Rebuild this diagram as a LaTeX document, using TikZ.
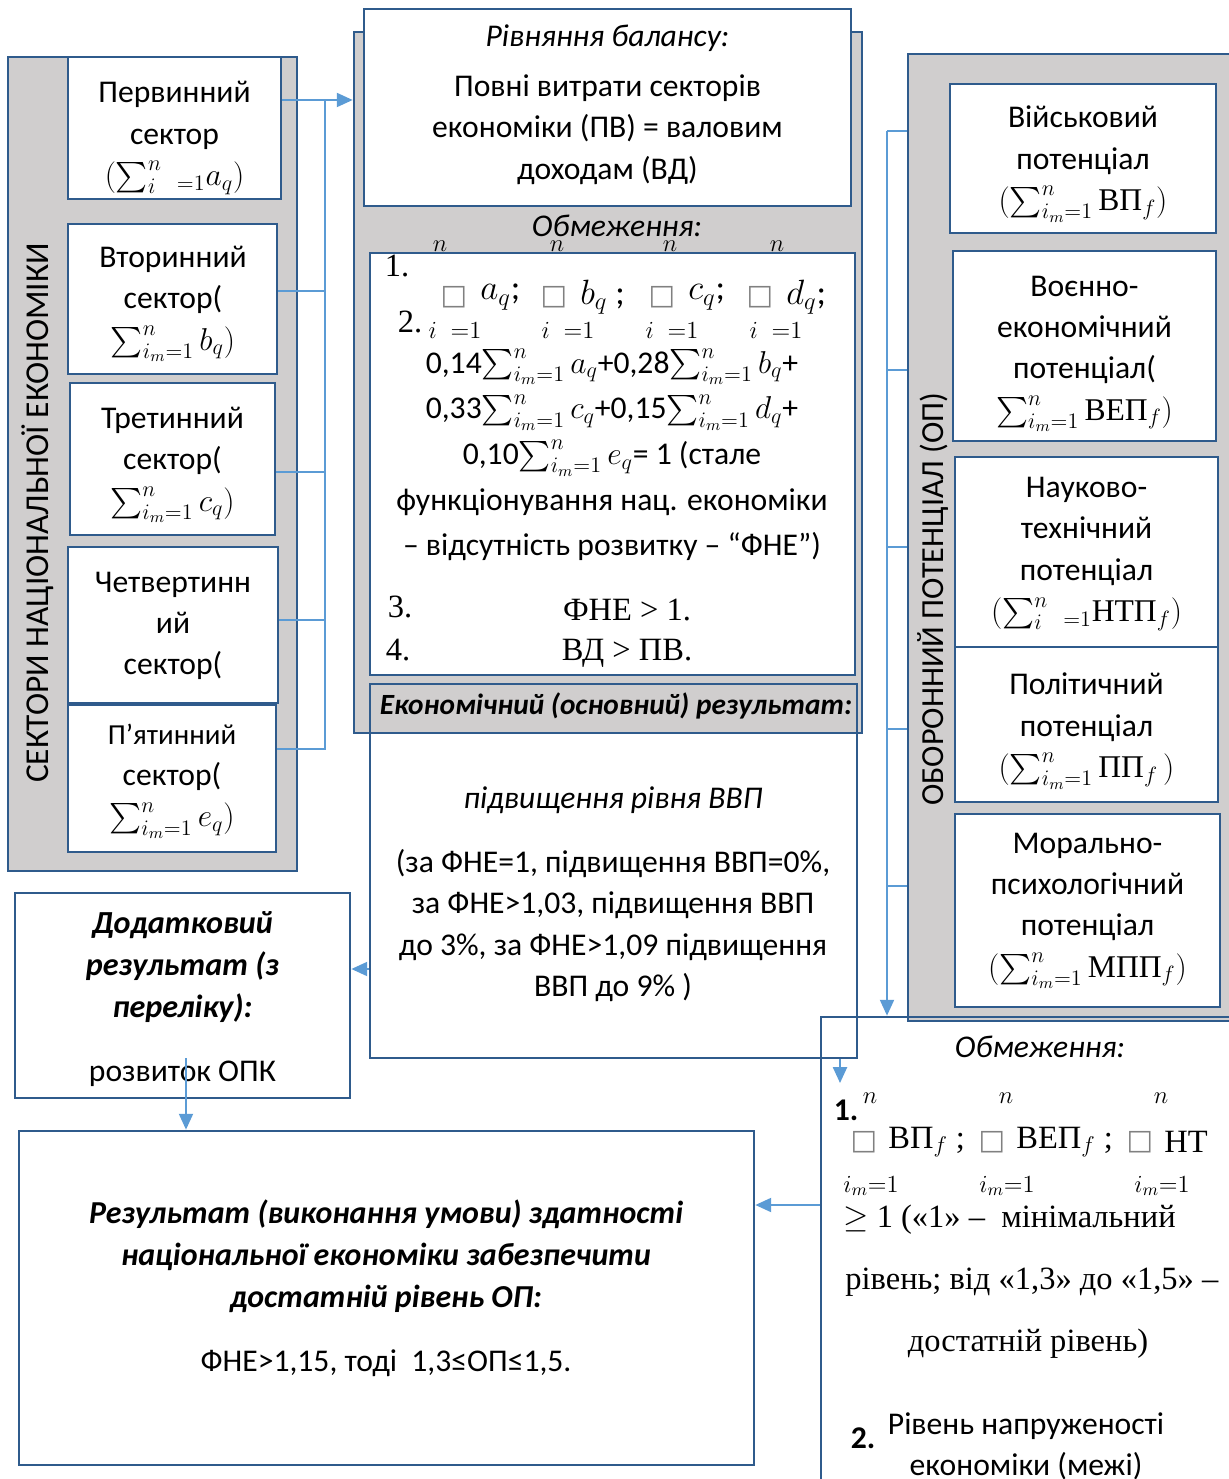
\RequirePackage{fix-cm}
\documentclass[tikz,border=0pt]{standalone}
\usepackage{fontspec}
\setmainfont{Carlito}
\newfontfamily\cyrser{Liberation Serif}
\newfontfamily\symf{DejaVu Sans}
\usepackage{amsmath}
\usetikzlibrary{arrows.meta}
\definecolor{panelgray}{HTML}{D0CECE}
\definecolor{boxblue}{HTML}{2F5B8C}
\definecolor{linkblue}{HTML}{5B9BD5}
\newcommand{\bodyfont}{\fontsize{18}{23.5}\selectfont}
\newcommand{\sq}{{\symf\color{gray}\fontsize{16}{16}\selectfont □}}
\newcommand{\cy}[1]{\text{\cyrser #1}}
\newcommand{\sumim}{\sum_{i_m=1}^{n}}

\begin{document}
\begin{tikzpicture}[x=0.02cm, y=-0.02cm,
		panel/.style={draw=boxblue, line width=1.6pt, fill=panelgray, inner sep=0pt},
		cell/.style={draw=boxblue, line width=1.6pt, fill=white, inner sep=0pt},
		frame/.style={draw=boxblue, line width=1.6pt, inner sep=0pt},
		link/.style={draw=linkblue, line width=1pt},
		arr/.style={link, -{Triangle[length=9pt, width=8pt]}},
		txt/.style={inner sep=0pt, font=\bodyfont, align=center},
		serif/.style={inner sep=0pt, font=\cyrser\fontsize{18.5}{21}\selectfont},
		small/.style={inner sep=0pt, font=\fontsize{14}{15}\selectfont}]
		\useasboundingbox (0,0) rectangle (1228,1479);
		%
		\node[panel, minimum width=5.78cm, minimum height=16.28cm] (secpanel) at (152.5,464) {};
		\node[panel, minimum width=10.16cm, minimum height=14.02cm] (midpanel) at (608,382.5) {};
		\node[panel, minimum width=6.84cm, minimum height=19.34cm] (oppanel) at (1079,537.5) {};
		%
		\node[rotate=90, inner sep=0pt, font=\fontsize{19}{22}\selectfont] (seclab) at (38,513) {СЕКТОРИ\ НАЦІОНАЛЬНОЇ\ ЕКОНОМІКИ};
		\node[cell, minimum width=4.26cm, minimum height=2.84cm] (prim) at (174.5,128) {};
		\node[cell, minimum width=4.18cm, minimum height=3.0cm] (sec) at (172.5,299) {};
		\node[cell, minimum width=4.10cm, minimum height=3.04cm] (ter) at (172.5,459) {};
		\node[cell, minimum width=4.20cm, minimum height=3.12cm] (quat) at (173,625) {};
		\node[cell, minimum width=4.16cm, minimum height=2.94cm] (quin) at (172,778.5) {};
		\node[txt] (primT) at (174.5,138) {Первинний\\сектор\\$(\sum_{i}^{n}{}_{\;\,=1}a_q)$};
		\node[txt] (secT) at (173,304) {Вторинний\\сектор(\\$\sumim b_q)$};
		\node[txt] (terT) at (172.5,465) {Третинний\\сектор(\\$\sumim c_q)$};
		\node[txt] (quatT) at (173,626) {Четвертинн\\ий\\сектор(};
		\node[txt] (quinT) at (172,781) {{\fontsize{16.5}{16.5}\selectfont П’ятинний}\\сектор(\\$\sumim e_q)$};
		%
		\node[cell, minimum width=9.74cm, minimum height=3.94cm] (bal) at (607.5,107.5) {};
		\node[txt] (balT) at (607.5,104.5) {\textit{Рівняння балансу:}\\[5pt]Повні витрати секторів\\економіки (ПВ) = валовим\\доходам (ВД)};
		\node[txt, font=\bodyfont\itshape] (obm) at (617,226) {Обмеження:};
		\node[cell, minimum width=9.70cm, minimum height=8.44cm] (cons) at (612.5,464) {};
		\node[serif] (c1) at (397,266) {1.};
		\foreach \x [count=\i] in {440,557,670,777} \node[small] (cn\i) at (\x,246) {$n$};
		\foreach \x/\t [count=\i] in {454/{$a_q$;}, 554/{$b_q$ ;}, 662/{$c_q$;}, 760/{$d_q$;}} {
			\node[txt] (sq\i) at (\x,297) {\sq};
			\node[inner sep=0pt, anchor=west, font=\fontsize{20}{22}\selectfont] (ct\i) at (\x+26,297) {\t};
		}
		\node[serif] (c2) at (410,322) {2.};
		\foreach \x [count=\i] in {455,568,672,776} \node[small] (ci\i) at (\x,330) {$i\;\;{=}1$};
		\node[txt, font=\fontsize{18}{26}\selectfont] (form) at (612,455) {0,14$\sumim a_q$+0,28$\sumim b_q$+\\0,33$\sumim c_q$+0,15$\sumim d_q$+\\0,10$\sumim e_q$= 1 (стале\\функціонування нац. економіки\\– відсутність розвитку – “ФНЕ”)};
		\node[serif] (c3) at (400,607) {3.};
		\node[serif] (fne) at (627,610) {ФНЕ > 1.};
		\node[serif] (c4) at (398,650) {4.};
		\node[serif] (vdpv) at (627,653) {ВД > ПВ.};
		%
		\node[frame, minimum width=9.74cm, minimum height=7.48cm] (res) at (613.5,871) {};
		\node[txt, font=\fontsize{16.7}{18}\selectfont\bfseries\itshape] (reshead) at (616,706) {Економічний (основний) результат:};
		\node[txt] (resbody) at (613,894) {\textit{підвищення рівня ВВП}\\[13pt](за ФНЕ=1, підвищення ВВП=0\%,\\за ФНЕ>1,03, підвищення ВВП\\до 3\%, за ФНЕ>1,09 підвищення\\ВВП до 9\% )};
		%
		\node[cell, minimum width=6.70cm, minimum height=4.10cm] (dod) at (182.5,995.5) {};
		\node[txt, font=\fontsize{18.3}{24}\selectfont\bfseries\itshape] (dodT) at (182.5,999) {Додатковий\\результат (з\\переліку):\\[12pt]\normalfont\bodyfont розвиток ОПК};
		\node[frame, minimum width=14.70cm, minimum height=6.68cm] (fin) at (386.5,1298) {};
		\node[txt, font=\fontsize{18.2}{24}\selectfont\bfseries\itshape] (finT) at (386,1288) {Результат (виконання умови) здатності\\національної економіки забезпечити\\достатній рівень ОП:\\[12pt]\normalfont\bodyfont ФНЕ>1,15, тоді\ \ 1,3≤ОП≤1,5.};
		%
		\node[rotate=90, inner sep=0pt, font=\fontsize{18.3}{22}\selectfont] (oplab) at (933,599) {ОБОРОННИЙ ПОТЕНЦІАЛ (ОП)};
		\node[cell, minimum width=5.32cm, minimum height=2.98cm] (mil) at (1083,158.5) {};
		\node[cell, minimum width=5.26cm, minimum height=3.80cm] (vep) at (1084.5,346) {};
		\node[cell, minimum width=5.26cm, minimum height=3.80cm] (ntp) at (1086.5,552) {};
		\node[cell, minimum width=5.26cm, minimum height=3.10cm] (pol) at (1086.5,724.5) {};
		\node[cell, minimum width=5.30cm, minimum height=3.86cm] (mpp) at (1087.5,910.5) {};
		\node[txt] (milT) at (1083,164) {Військовий\\потенціал\\$(\sumim\cy{ВП}_f)$};
		\node[txt] (vepT) at (1084.5,354) {Воєнно-\\економічний\\потенціал(\\$\sumim\cy{ВЕП}_f)$};
		\node[txt] (ntpT) at (1086.5,554) {Науково-\\технічний\\потенціал\\$(\sum_{i}^{n}{}_{\;\,=1}\cy{НТП}_f)$};
		\node[txt] (polT) at (1086.5,731) {Політичний\\потенціал\\$(\sumim\cy{ПП}_f\,)$};
		\node[txt] (mppT) at (1087.5,911) {Морально-\\психологічний\\потенціал\\$(\sumim\cy{МПП}_f)$};
		%
		\node[frame, minimum width=8.58cm, minimum height=9.66cm] (rcons) at (1035.5,1258.5) {};
		\node[txt, font=\bodyfont\itshape] (robm) at (1040,1047) {Обмеження:};
		\node[txt, font=\bodyfont\bfseries] (r1) at (846,1110) {1.};
		\foreach \x [count=\i] in {870,1006,1161} \node[small] (rn\i) at (\x,1098) {$n$};
		\foreach \x/\t [count=\i] in {864/{ВП$_f$ ;}, 992/{ВЕП$_f$ ;}, 1140/{НТ}} {
			\node[txt] (rsq\i) at (\x,1142) {\sq};
			\node[serif, anchor=west] (rt\i) at (\x+24,1142) {\t};
		}
		\foreach \x [count=\i] in {871,1007,1162} \node[small] (ri\i) at (\x,1186) {$i_m{=}1$};
		\node[serif, anchor=west] (rge) at (843,1220) {$\geq$ 1 («1» –\ \ мінімальний};
		\node[serif, anchor=west] (rriv) at (845,1282) {рівень; від «1,3» до «1,5» –};
		\node[serif] (rdost) at (1028,1344) {достатній рівень)};
		\node[txt, font=\bodyfont\bfseries] (r2) at (863,1438) {2.};
		\node[txt] (rnapr) at (1026,1446) {Рівень напруженості\\економіки (межі)};
		%
		\coordinate (bustop) at (325,100);
		\coordinate (busbot) at (325,750);
		\draw[link] (bustop) -- (busbot);
		\draw[arr] (prim.east |- bustop) -- (midpanel.west |- bustop);
		\foreach \n/\y in {sec/291, ter/472, quat/620, quin/749} {
			\coordinate (b) at (325,\y);
			\draw[link] (\n.east |- b) -- (b);
		}
		%
		\coordinate (rbus) at (887,131);
		\draw[arr] (rbus) -- (rbus |- rcons.north);
		\foreach \y in {131,370,547,729,886} {
			\coordinate (s) at (887,\y);
			\draw[link] (s) -- (s -| oppanel.west);
		}
		%
		\coordinate (resdn) at (840,1083);
		\draw[arr] (resdn |- res.south) -- (resdn);
		\coordinate (dodin) at (351,969);
		\draw[arr] (res.west |- dodin) -- (dod.east |- dodin);
		\coordinate (dodout) at (186,1058);
		\draw[arr] (dodout) -- (dodout |- fin.north);
		\coordinate (finin) at (755,1205);
		\draw[arr] (rcons.west |- finin) -- (fin.east |- finin);
	\end{tikzpicture}
\end{document}
